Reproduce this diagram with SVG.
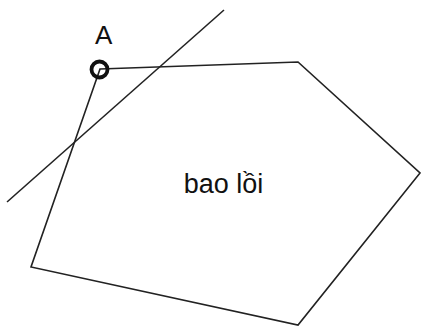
<svg xmlns="http://www.w3.org/2000/svg" width="421" height="327" viewBox="0 0 421 327">
<style>
.ln{fill:none;stroke:#222;stroke-width:1.6;stroke-linejoin:miter}
.t{font-family:"Liberation Sans",Arial,sans-serif;fill:#111}
</style>
<rect width="421" height="327" fill="#fff"/>
<g id="connectors">
<polygon id="hull" class="ln" points="100,69 298,62 420,173 298,325 31,267"/>
<line id="line" class="ln" x1="7" y1="202" x2="224" y2="10"/>
</g>
<g id="pointA">
<circle cx="99.5" cy="69.5" r="8" fill="none" stroke="#111" stroke-width="3.8"/>
<text class="t" x="103.7" y="43.5" font-size="26" text-anchor="middle">A</text>
</g>
<g id="label">
<text class="t" x="223.5" y="193" font-size="27" text-anchor="middle">bao lồi</text>
</g>
</svg>
